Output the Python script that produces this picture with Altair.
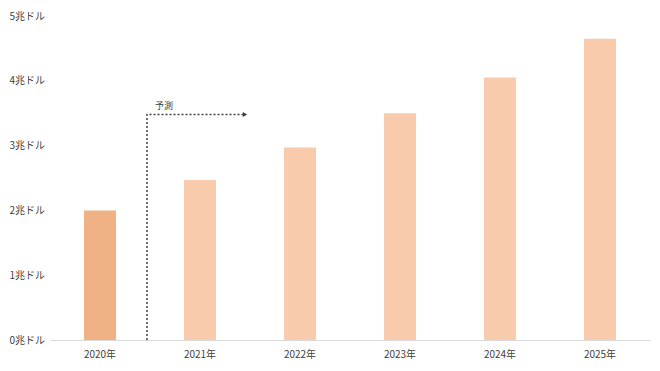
import altair as alt
import pandas as pd

years = ["2020年", "2021年", "2022年", "2023年", "2024年", "2025年"]
values = [2.0, 2.47, 2.97, 3.5, 4.05, 4.65]
kinds = ["実績", "予測", "予測", "予測", "予測", "予測"]
y_ticks = [0, 1, 2, 3, 4, 5]

# annotation path (in category-step units, 0..6)
ann_x = [0.97, 0.97, 1.95]
ann_y = [0.0, 3.48, 3.48]
ann_order = [0, 1, 2]
ann_label = "予測"

FONT = "Noto Sans CJK JP"

df = pd.DataFrame({"year": years, "value": values, "kind": kinds})
ann = pd.DataFrame({"x": ann_x, "y": ann_y, "o": ann_order})
head = pd.DataFrame({"x": [ann_x[-1]], "y": [ann_y[-1]]})
lab = pd.DataFrame({"x": [ann_x[0] + 0.08], "y": [ann_y[1] + 0.13], "t": [ann_label]})

yscale = alt.Scale(domain=[0, 5])
y_axis = alt.Axis(title=None, values=y_ticks, grid=False, ticks=False, domain=False,
                  labelExpr="datum.value + '兆ドル'", labelAlign="left",
                  labelPadding=41, labelFont=FONT, labelFontSize=10,
                  labelColor="#404040")

bars = alt.Chart(df).mark_bar().encode(
    x=alt.X("year:N", sort=years,
            scale=alt.Scale(paddingInner=0.68, paddingOuter=0.34),
            axis=alt.Axis(title=None, labelAngle=0, ticks=False, domain=True,
                          domainColor="#d9d9d9", labelFont=FONT, labelFontSize=10,
                          labelColor="#404040", labelPadding=9)),
    y=alt.Y("value:Q", scale=yscale, axis=y_axis),
    color=alt.Color("kind:N", scale=alt.Scale(domain=["実績", "予測"],
                                              range=["#F0B184", "#F8CBAD"]), legend=None),
)

xq = alt.Scale(domain=[0, 6])
line = alt.Chart(ann).mark_line(color="#404040", strokeDash=[2, 2], strokeWidth=1.5).encode(
    x=alt.X("x:Q", scale=xq, axis=None),
    y=alt.Y("y:Q", scale=yscale, axis=y_axis),
    order="o:Q",
)
arrow = alt.Chart(head).mark_point(shape="triangle-right", filled=True, color="#404040",
                                   size=25, opacity=1).encode(
    x=alt.X("x:Q", scale=xq, axis=None),
    y=alt.Y("y:Q", scale=yscale, axis=y_axis),
)
text = alt.Chart(lab).mark_text(align="left", baseline="middle", font=FONT, fontSize=9,
                                color="#404040").encode(
    x=alt.X("x:Q", scale=xq, axis=None),
    y=alt.Y("y:Q", scale=yscale, axis=y_axis),
    text="t:N",
)

ann_layer = alt.layer(line, arrow, text)

chart = alt.layer(bars, ann_layer).resolve_scale(x="independent").properties(
    width=600, height=324,
    background="white",
    autosize=alt.AutoSizeParams(type="none"),
    padding={"left": 42, "top": 8, "right": 2, "bottom": 20},
).configure_view(stroke=None)

chart.save("out.html", embed_options={"renderer": "svg", "actions": False})
